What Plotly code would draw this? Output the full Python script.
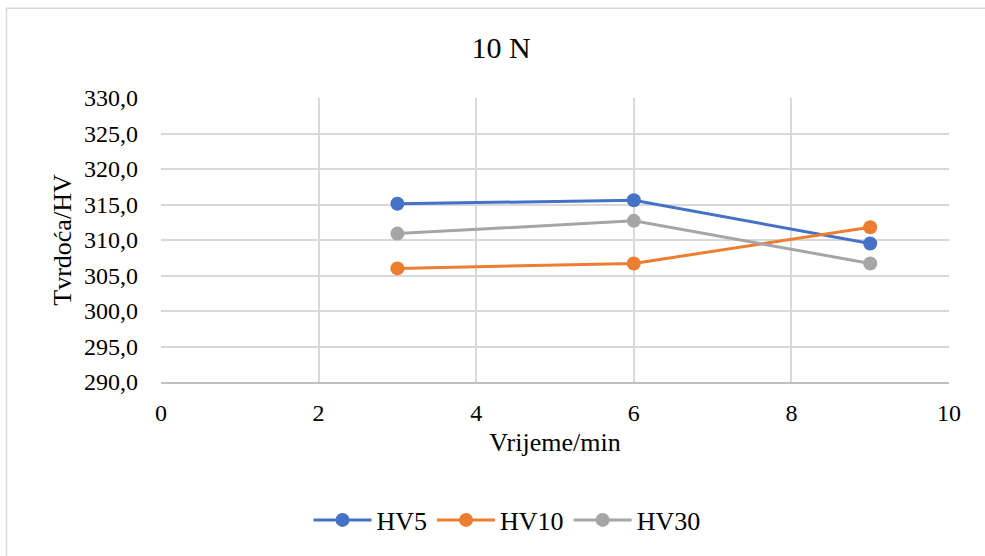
import plotly.graph_objects as go

time_min = [3, 6, 9]
hv5 = [315.1, 315.6, 309.5]
hv10 = [306.0, 306.7, 311.8]
hv30 = [310.9, 312.7, 306.7]
series_names = ["HV5", "HV10", "HV30"]
series_colors = ["#4472C4", "#ED7D31", "#A5A5A5"]

W, H = 985, 556
L, R, T, B = 161, 36, 97.5, 173.5
pw, ph = W - L - R, H - T - B

fig = go.Figure()
for name, vals, col in zip(series_names, [hv5, hv10, hv30], series_colors):
    fig.add_trace(go.Scatter(
        x=time_min, y=vals, name=name, mode="lines+markers",
        line=dict(color=col, width=3),
        marker=dict(color=col, size=14),
    ))

font = "Liberation Serif, Times New Roman, serif"
fig.update_layout(
    width=W, height=H,
    margin=dict(l=L, r=R, t=T, b=B, pad=0),
    paper_bgcolor="white", plot_bgcolor="white",
    separators=",.",
    font=dict(family=font, size=24, color="#000000"),
    title=dict(text="10 N", x=501 / W, xanchor="center", y=1 - 47 / H, yanchor="middle",
               font=dict(family=font, size=30, color="#000000")),
    xaxis=dict(range=[0, 10], dtick=2, tickformat="d", showgrid=True, gridcolor="#D9D9D9",
               gridwidth=1.5, zeroline=False, showline=True, linecolor="#BFBFBF", linewidth=1.5,
               ticks="", tickfont=dict(size=24), ticklabelstandoff=8,
               title=dict(text="Vrijeme/min", font=dict(size=26), standoff=8)),
    yaxis=dict(range=[290, 330], dtick=5, tickformat=".1f", showgrid=True, gridcolor="#D9D9D9",
               gridwidth=1.5, zeroline=False, showline=False, ticks="", tickfont=dict(size=24),
               ticklabelstandoff=22,
               title=dict(text="Tvrdoća/HV", font=dict(size=26), standoff=4)),
    legend=dict(orientation="h", x=(507 - L) / pw, xanchor="center", y=-(521 - (T + ph)) / ph,
                yanchor="middle", font=dict(size=26), tracegroupgap=0, itemwidth=58),
    showlegend=True,
)

# outer chart border (only top and left edges are visible in the frame)
fig.add_shape(type="rect", xref="paper", yref="paper",
              x0=(6.5 - L) / pw, x1=(995 - L) / pw,
              y0=1 - (566 - T) / ph, y1=1 - (7.5 - T) / ph,
              line=dict(color="#D9D9D9", width=1.5), layer="below")

fig.write_html("out.html", config={"displayModeBar": False},
               post_script="document.body.style.margin='0';document.body.style.overflow='hidden';")
